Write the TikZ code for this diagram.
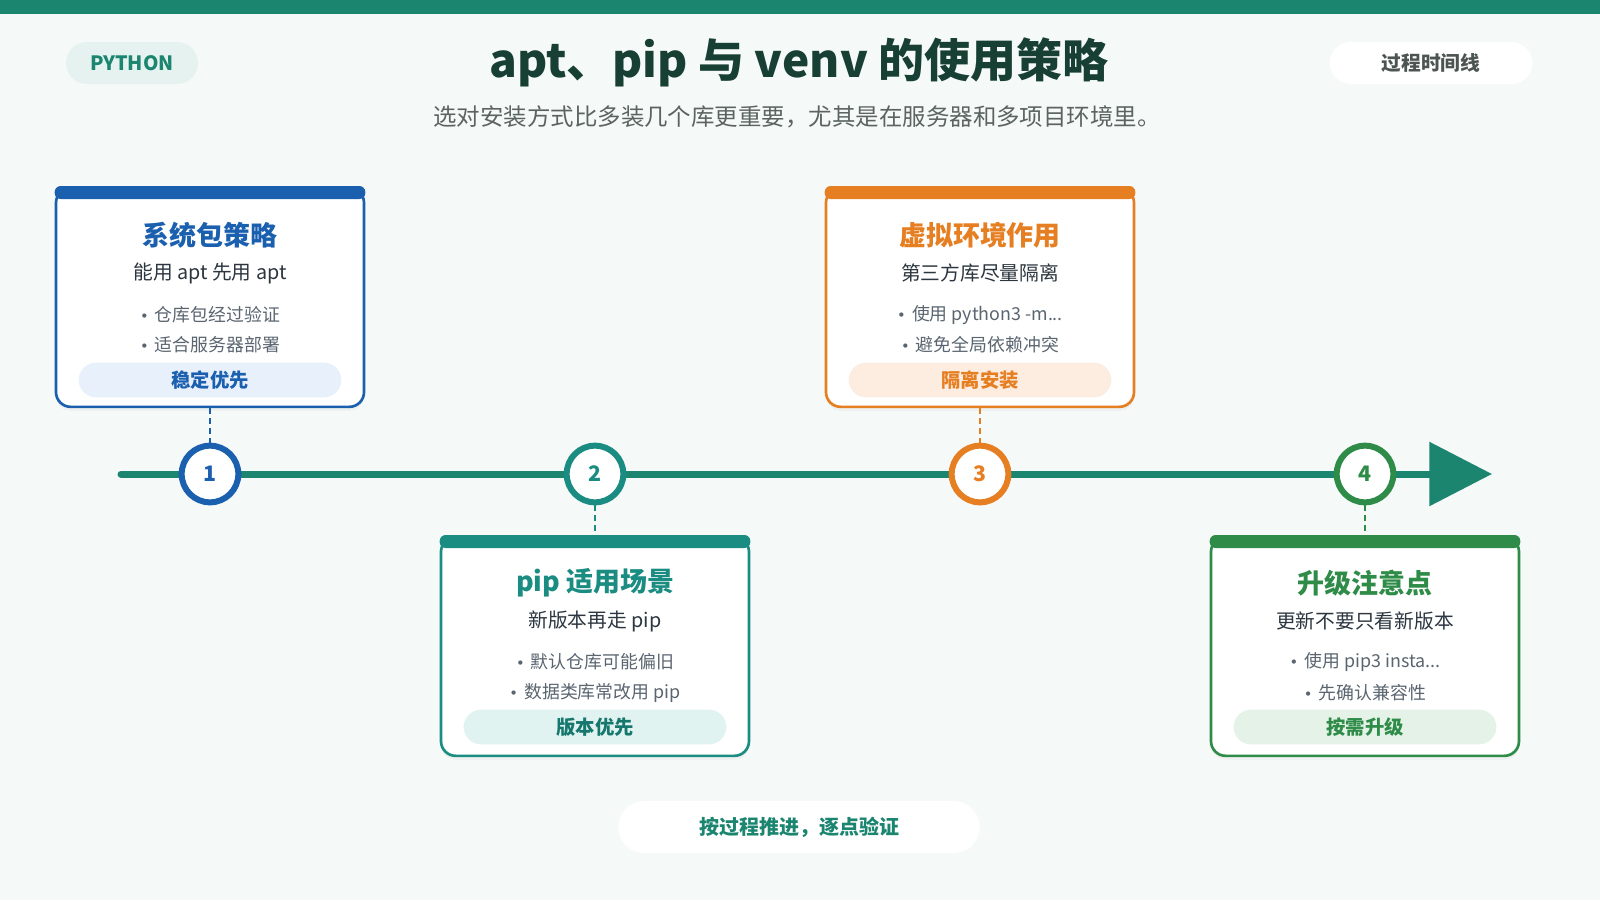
\documentclass[tikz,border=0pt]{standalone}
\usepackage{fontspec}
\setmainfont{Noto Sans CJK SC}
\newfontfamily\dotfont{DejaVu Sans}
\usepackage{xcolor}
\usetikzlibrary{arrows.meta,positioning,shadows}

\definecolor{bgcol}{HTML}{F5F9F7}
\definecolor{maingreen}{HTML}{1B8570}
\definecolor{titlecol}{HTML}{173F33}
\definecolor{subcol}{HTML}{5B6461}
\definecolor{bodycol}{HTML}{2C3640}
\definecolor{itemcol}{HTML}{5A6570}
\definecolor{aptblue}{HTML}{1B5FAF}
\definecolor{aptfill}{HTML}{E7F0FB}
\definecolor{pipteal}{HTML}{1A8C82}
\definecolor{pipfill}{HTML}{E1F3F0}
\definecolor{venvorange}{HTML}{E67E22}
\definecolor{venvfill}{HTML}{FDEDE0}
\definecolor{upgreen}{HTML}{2E8B48}
\definecolor{upfill}{HTML}{E4F2E7}

\newcommand{\dotmark}{{\dotfont\color{itemcol}\fontsize{11}{11}\selectfont •}\hspace{0.35em}}

\begin{document}
\begin{tikzpicture}[x=0.75pt, y=-0.75pt,
      card/.style={draw, line width=2pt, fill=white, rounded corners=11pt,
        minimum width=231pt, minimum height=164pt, inner sep=0pt,
        drop shadow={shadow xshift=0pt, shadow yshift=-3pt, opacity=0.06}},
      cardbar/.style={rounded corners=4.5pt, minimum width=233pt,
        minimum height=9.75pt, inner sep=0pt},
      cardtitle/.style={font=\bfseries\fontsize{20.2}{22}\selectfont},
      cardsub/.style={text=bodycol, font=\fontsize{14.8}{17}\selectfont},
      item/.style={text=itemcol, font=\fontsize{13.4}{15}\selectfont},
      pill/.style={rounded corners=13pt, minimum width=197pt, minimum height=26pt,
        inner sep=0pt, font=\bfseries\fontsize{14.5}{16}\selectfont},
      num/.style={circle, draw, line width=4.5pt, fill=white, minimum size=42.5pt,
        inner sep=0pt, font=\bfseries\fontsize{16}{16}\selectfont},
      dashline/.style={line width=2.2pt, dash pattern=on 4.5pt off 3pt},
      tag/.style={rounded corners=15.75pt, minimum height=31.5pt, inner sep=0pt,
        font=\bfseries\fontsize{14.8}{16}\selectfont}]
    % page and header
    \fill[bgcol] (0,0) rectangle (1600,900);
    \fill[maingreen] (0,0) rectangle (1600,14);
    \node[tag, fill=maingreen!11, text=maingreen, minimum width=99pt] (py) at (132,63) {PYTHON};
    \node[tag, fill=white, text=subcol!85!black, minimum width=152pt] (tline) at (1431,63) {过程时间线};
    \node[text=titlecol, font=\bfseries\fontsize{34.5}{40}\selectfont] (title) at (799,62) {apt、pip 与 venv 的使用策略};
    \node[text=subcol, font=\fontsize{17.6}{20}\selectfont] (subtitle) at (797,117) {选对安装方式比多装几个库更重要，尤其是在服务器和多项目环境里。};

    % timeline
    \coordinate (tl0) at (121,474);
    \coordinate (tl1) at (1492,474);
    \draw[maingreen, line width=5.25pt, line cap=round, -{Triangle[length=47pt,width=47pt]}] (tl0) -- (tl1);
    \node[num, draw=aptblue, text=aptblue]         (n1) at (210,474)  {1};
    \node[num, draw=pipteal, text=pipteal]         (n2) at (595,474)  {2};
    \node[num, draw=venvorange, text=venvorange]   (n3) at (980,474)  {3};
    \node[num, draw=upgreen, text=upgreen]         (n4) at (1365,474) {4};

    % card 1
    \node[card, draw=aptblue] (c1) at (210,297.5) {};
    \node[cardbar, fill=aptblue] (b1) at (210,192.5) {};
    \node[cardtitle, text=aptblue] (t1) at (210,235) {系统包策略};
    \node[cardsub] (s1) at (210,273) {能用 apt 先用 apt};
    \node[item] (i1a) at (210,315) {\dotmark 仓库包经过验证};
    \node[item] (i1b) at (210,345) {\dotmark 适合服务器部署};
    \node[pill, fill=aptfill, text=aptblue] (p1) at (210,380) {稳定优先};

    % card 2
    \node[card, draw=pipteal] (c2) at (595,646.5) {};
    \node[cardbar, fill=pipteal] (b2) at (595,541.5) {};
    \node[cardtitle, text=pipteal] (t2) at (595,583) {pip 适用场景};
    \node[cardsub] (s2) at (595,621) {新版本再走 pip};
    \node[item] (i2a) at (595,662) {\dotmark 默认仓库可能偏旧};
    \node[item] (i2b) at (595,693) {\dotmark 数据类库常改用 pip};
    \node[pill, fill=pipfill, text=pipteal!85!black] (p2) at (595,727) {版本优先};

    % card 3
    \node[card, draw=venvorange] (c3) at (980,297.5) {};
    \node[cardbar, fill=venvorange] (b3) at (980,192.5) {};
    \node[cardtitle, text=venvorange] (t3) at (980,235) {虚拟环境作用};
    \node[cardsub] (s3) at (980,273) {第三方库尽量隔离};
    \node[item] (i3a) at (980,315) {\dotmark 使用 python3 -m...};
    \node[item] (i3b) at (980,345) {\dotmark 避免全局依赖冲突};
    \node[pill, fill=venvfill, text=venvorange] (p3) at (980,380) {隔离安装};

    % card 4
    \node[card, draw=upgreen] (c4) at (1365,646.5) {};
    \node[cardbar, fill=upgreen] (b4) at (1365,541.5) {};
    \node[cardtitle, text=upgreen] (t4) at (1365,583) {升级注意点};
    \node[cardsub] (s4) at (1365,621) {更新不要只看新版本};
    \node[item] (i4a) at (1365,662) {\dotmark 使用 pip3 insta...};
    \node[item] (i4b) at (1365,693) {\dotmark 先确认兼容性};
    \node[pill, fill=upfill, text=upgreen] (p4) at (1365,727) {按需升级};

    % links card <-> step
    \draw[dashline, aptblue]    (c1.south) -- (n1.north);
    \draw[dashline, pipteal]    (n2.south) -- (b2.north);
    \draw[dashline, venvorange] (c3.south) -- (n3.north);
    \draw[dashline, upgreen]    (n4.south) -- (b4.north);

    % footer
    \node[tag, fill=white, text=maingreen, minimum width=271pt, minimum height=39pt,
      rounded corners=19.5pt, font=\bfseries\fontsize{15}{17}\selectfont] (foot) at (799,827) {按过程推进，逐点验证};
  \end{tikzpicture}
\end{document}
